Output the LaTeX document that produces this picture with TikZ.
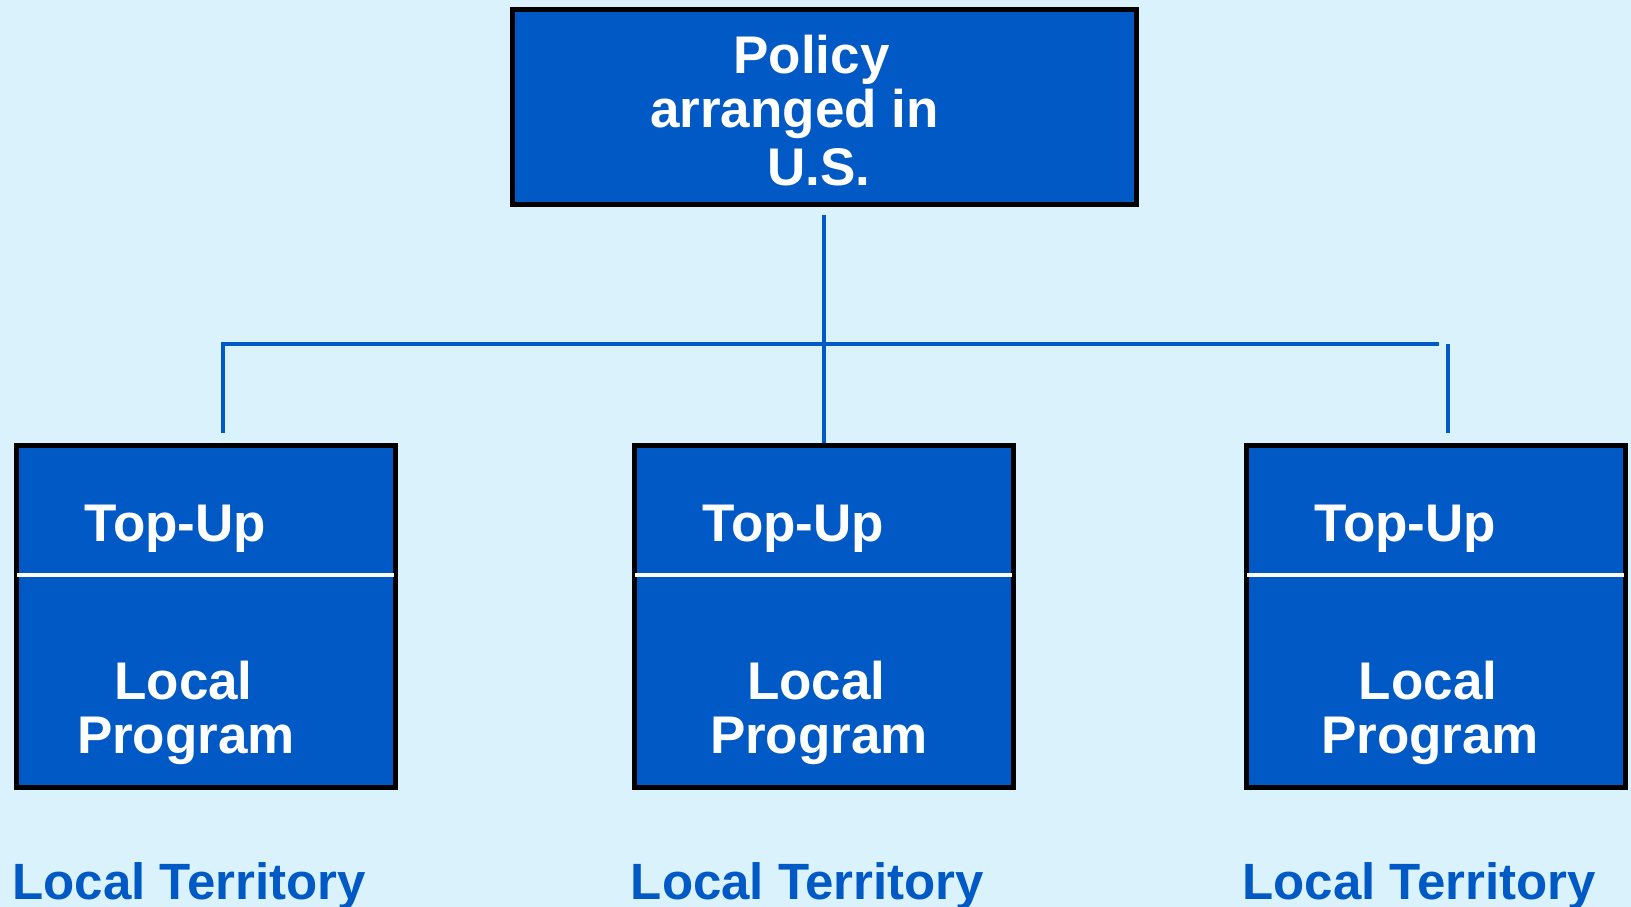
\documentclass[tikz,border=0pt]{standalone}
\usepackage{fontspec}
\setmainfont{Liberation Sans}
\definecolor{bgc}{RGB}{217,242,251}
\definecolor{boxblue}{RGB}{0,89,196}
\begin{document}
\begin{tikzpicture}[x=1pt,y=-1pt,
  boxst/.style={draw=black,line width=5pt,fill=boxblue},
  conn/.style={draw=boxblue,line width=4pt},
  divider/.style={draw=white,line width=4pt},
  boxtext/.style={inner sep=0pt,anchor=base,text=white,font=\bfseries\fontsize{53}{53}\selectfont},
  terr/.style={inner sep=0pt,anchor=base,text=boxblue,font=\bfseries\fontsize{51}{51}\selectfont}]
\fill[bgc] (0,0) rectangle (1631,907);
\useasboundingbox (0,0) rectangle (1631,907);
% boxes
\draw[boxst] (512.5,9.5) rectangle (1136.5,204.5);
\coordinate (topbot) at (823.5,215);
\foreach \n/\dx in {L/0,M/618,R/1230}{
  \draw[boxst] (16.5+\dx,445.5) rectangle (395.5+\dx,787.5);
  \coordinate (\n dl) at (17+\dx,575);
  \coordinate (\n dr) at (394+\dx,575);
  \draw[divider] (\n dl) -- (\n dr);
}
% top texts
\node[boxtext] (t1) at (811.5,74) {Policy};
\node[boxtext] (t2) at (794.5,128) {arranged in};
\node[boxtext] (t3) at (819,185) {U.S.};
% lower texts
\node[boxtext] (tuL) at (175.5,541) {Top-Up};
\node[boxtext] (tuM) at (793.5,541) {Top-Up};
\node[boxtext] (tuR) at (1405.5,541) {Top-Up};
\node[boxtext] (loL) at (183.5,699) {Local};
\node[boxtext] (loM) at (816.3,699) {Local};
\node[boxtext] (loR) at (1428,699) {Local};
\node[boxtext] (prL) at (186,753) {Program};
\node[boxtext] (prM) at (819,753) {Program};
\node[boxtext] (prR) at (1430,753) {Program};
\node[terr] (ltL) at (189,899) {Local Territory};
\node[terr] (ltM) at (807.5,899) {Local Territory};
\node[terr] (ltR) at (1419,899) {Local Territory};
% connectors
\coordinate (midtop) at (823.5,443);
\coordinate (ldrop) at (223,433);
\coordinate (lcorner) at (223,344);
\coordinate (hend) at (1439,344);
\coordinate (rtop) at (1448,344);
\coordinate (rdrop) at (1448,433);
\draw[conn] (topbot) -- (midtop);
\draw[conn,line join=miter] (ldrop) -- (lcorner) -- (hend);
\draw[conn] (rtop) -- (rdrop);
\end{tikzpicture}
\end{document}
